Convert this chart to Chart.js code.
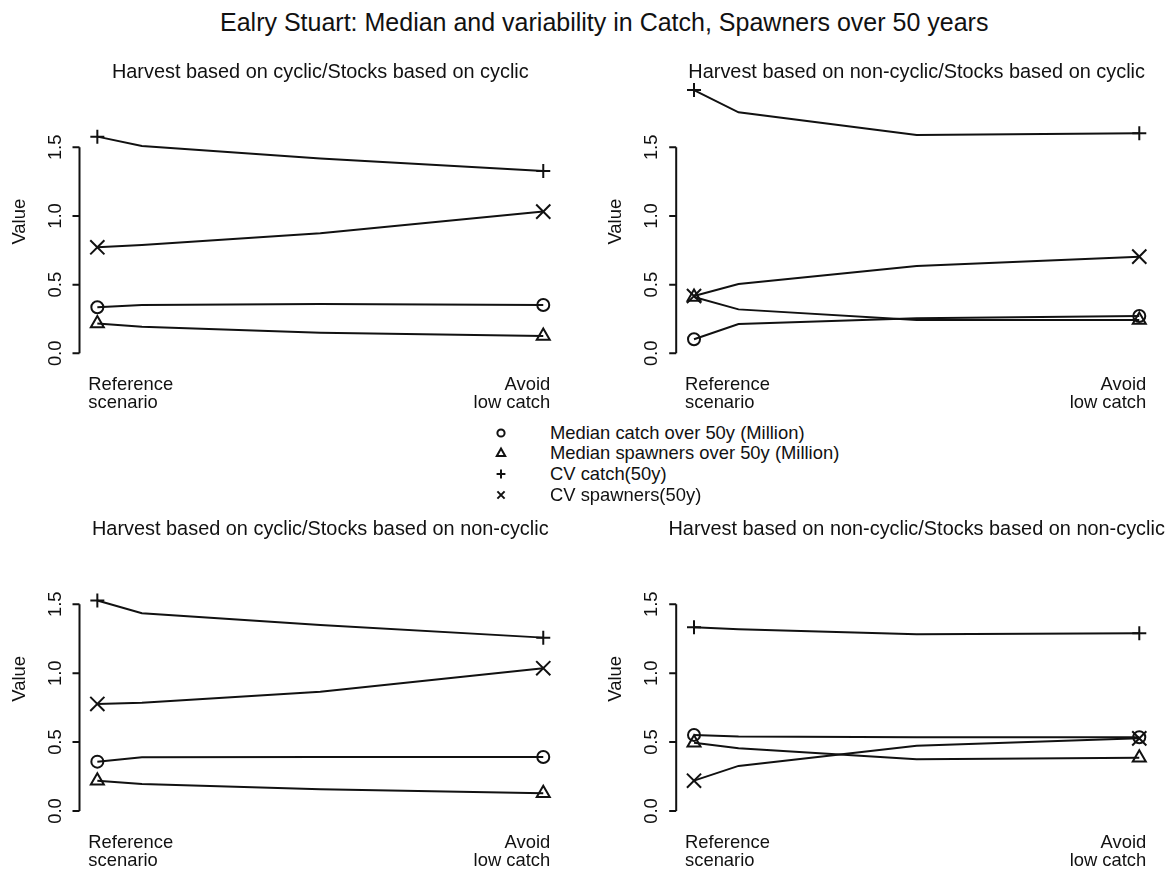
<!DOCTYPE html>
<html>
<head>
<meta charset="utf-8">
<title>Ealry Stuart: Median and variability</title>
<script src="https://cdn.jsdelivr.net/npm/chart.js@4.4.1/dist/chart.umd.min.js"></script>
<style>
  html, body { margin: 0; padding: 0; background: #fff; }
  #page { position: relative; width: 1170px; height: 872px; overflow: hidden;
          font-family: "Liberation Sans", Arial, sans-serif; color: #111; }
  #page canvas { position: absolute; }
  #mainTitle { position: absolute; left: 220px; top: 9.5px; font-size: 25px; line-height: 25px; white-space: nowrap; }
  .legText { position: absolute; left: 550px; font-size: 18.4px; line-height: 18.4px; white-space: nowrap; }
  .legSym { position: absolute; width: 14px; height: 14px; }
</style>
</head>
<body>
<div id="page">
  <div id="mainTitle">Ealry Stuart: Median and variability in Catch, Spawners over 50 years</div>
  <canvas id="p1" width="585" height="380" style="left:0;top:40px;width:585px;height:380px"></canvas>
  <canvas id="p2" width="585" height="380" style="left:585px;top:40px;width:585px;height:380px"></canvas>
  <canvas id="p3" width="585" height="377" style="left:0;top:495px;width:585px;height:377px"></canvas>
  <canvas id="p4" width="585" height="377" style="left:585px;top:495px;width:585px;height:377px"></canvas>
  <div id="legend"></div>
</div>
<script>
// x positions of the scenarios (only the two ends are labelled)
const xPositions = [0, 0.1, 0.5, 1];
const xTickLabels = [['Reference', 'scenario'], ['Avoid', 'low catch']];
const yTicks = [0, 0.5, 1.0, 1.5];

const seriesNames = [
  'Median catch over 50y (Million)',
  'Median spawners over 50y (Million)',
  'CV catch(50y)',
  'CV spawners(50y)'
];

const panelTitles = [
  'Harvest based on cyclic/Stocks based on cyclic',
  'Harvest based on non-cyclic/Stocks based on cyclic',
  'Harvest based on cyclic/Stocks based on non-cyclic',
  'Harvest based on non-cyclic/Stocks based on non-cyclic'
];

// panel 1: cyclic / cyclic
const p1Catch = [0.335, 0.352, 0.359, 0.352];
const p1Spawners = [0.218, 0.194, 0.150, 0.126];
const p1CvCatch = [1.578, 1.510, 1.418, 1.328];
const p1CvSpawners = [0.772, 0.789, 0.874, 1.032];

// panel 2: non-cyclic / cyclic
const p2Catch = [0.102, 0.214, 0.255, 0.272];
const p2Spawners = [0.410, 0.320, 0.243, 0.243];
const p2CvCatch = [1.917, 1.755, 1.590, 1.602];
const p2CvSpawners = [0.417, 0.505, 0.636, 0.704];

// panel 3: cyclic / non-cyclic
const p3Catch = [0.358, 0.390, 0.392, 0.392];
const p3Spawners = [0.220, 0.196, 0.157, 0.128];
const p3CvCatch = [1.527, 1.435, 1.350, 1.258];
const p3CvSpawners = [0.777, 0.786, 0.866, 1.036];

// panel 4: non-cyclic / non-cyclic
const p4Catch = [0.552, 0.540, 0.535, 0.535];
const p4Spawners = [0.496, 0.455, 0.375, 0.387];
const p4CvCatch = [1.333, 1.319, 1.283, 1.290];
const p4CvSpawners = [0.220, 0.327, 0.474, 0.527];

const INK = '#111';
const FONT = '"Liberation Sans", Arial, sans-serif';
const markerStyles = ['circle', 'triangle', 'cross', 'crossRot'];
const markerSizes = [6, 7.5, 7, 10];

// R-like axes: y axis only over the tick range, rotated tick labels, text labels under the ends
const rAxes = {
  id: 'rAxes',
  afterDraw(chart, args, opts) {
    const { ctx, chartArea, scales: { x, y } } = chart;
    const ax = chartArea.left;
    ctx.save();
    ctx.strokeStyle = INK;
    ctx.fillStyle = INK;
    ctx.lineWidth = 2;
    ctx.beginPath();
    ctx.moveTo(ax, y.getPixelForValue(yTicks[0]));
    ctx.lineTo(ax, y.getPixelForValue(yTicks[yTicks.length - 1]));
    yTicks.forEach(v => {
      const py = y.getPixelForValue(v);
      ctx.moveTo(ax, py);
      ctx.lineTo(ax - 7, py);
    });
    ctx.stroke();

    ctx.font = '18.4px ' + FONT;
    ctx.textAlign = 'center';
    ctx.textBaseline = 'alphabetic';
    yTicks.forEach(v => {
      ctx.save();
      ctx.translate(ax - 19, y.getPixelForValue(v));
      ctx.rotate(-Math.PI / 2);
      ctx.fillText(v.toFixed(1), 0, 0);
      ctx.restore();
    });
    ctx.save();
    ctx.translate(ax - 55, (chartArea.top + chartArea.bottom) / 2);
    ctx.rotate(-Math.PI / 2);
    ctx.fillText('Value', 0, 0);
    ctx.restore();

    const yz = y.getPixelForValue(0);
    ctx.textAlign = 'left';
    const xl = x.getPixelForValue(xPositions[0]) - 9;
    xTickLabels[0].forEach((t, i) => ctx.fillText(t, xl, yz + 37 + i * 17.7));
    ctx.textAlign = 'right';
    const xr = x.getPixelForValue(xPositions[xPositions.length - 1]) + 7;
    xTickLabels[1].forEach((t, i) => ctx.fillText(t, xr, yz + 37 + i * 17.7));

    ctx.font = '19.9px ' + FONT;
    ctx.textAlign = 'center';
    ctx.fillText(opts.title, (chartArea.left + chartArea.right) / 2, chartArea.top - 1.2);
    ctx.restore();
  }
};

function makePanel(id, title, series, pad) {
  const ends = r => xPositions.map((_, i) => (i === 0 || i === xPositions.length - 1) ? r : 0);
  return new Chart(document.getElementById(id), {
    type: 'line',
    data: {
      datasets: series.map((vals, s) => ({
        label: seriesNames[s],
        data: vals.map((v, i) => ({ x: xPositions[i], y: v })),
        borderColor: INK,
        borderWidth: 2,
        tension: 0,
        pointStyle: markerStyles[s],
        pointRadius: ends(markerSizes[s]),
        pointHoverRadius: ends(markerSizes[s]),
        pointBorderColor: INK,
        pointBackgroundColor: 'rgba(0,0,0,0)',
        pointBorderWidth: 2,
        clip: false
      }))
    },
    options: {
      responsive: false,
      animation: false,
      events: [],
      layout: { padding: pad },
      scales: {
        x: { type: 'linear', min: -0.04, max: 1.04, display: false },
        y: { type: 'linear', min: -0.077, max: 1.994, display: false }
      },
      plugins: {
        legend: { display: false },
        tooltip: { enabled: false },
        title: { display: false },
        rAxes: { title: title }
      }
    },
    plugins: [rAxes]
  });
}

makePanel('p1', panelTitles[0], [p1Catch, p1Spawners, p1CvCatch, p1CvSpawners],
  { left: 79.5, right: 23.9, top: 39.5, bottom: 56.1 });
makePanel('p2', panelTitles[1], [p2Catch, p2Spawners, p2CvCatch, p2CvSpawners],
  { left: 91.2, right: 12.9, top: 39.5, bottom: 56.1 });
makePanel('p3', panelTitles[2], [p3Catch, p3Spawners, p3CvCatch, p3CvSpawners],
  { left: 79.5, right: 23.9, top: 41.2, bottom: 50.4 });
makePanel('p4', panelTitles[3], [p4Catch, p4Spawners, p4CvCatch, p4CvSpawners],
  { left: 91.2, right: 12.9, top: 41.2, bottom: 50.4 });

// legend in the middle of the page
const legendSvg = {
  circle: '<circle cx="7" cy="7" r="3.6" fill="none" stroke="#111" stroke-width="2"/>',
  triangle: '<polygon points="7,2.6 11.2,10 2.8,10" fill="none" stroke="#111" stroke-width="2"/>',
  cross: '<path d="M7 2.6V11.4M2.6 7H11.4" stroke="#111" stroke-width="2"/>',
  crossRot: '<path d="M3.4 3.4L10.6 10.6M10.6 3.4L3.4 10.6" stroke="#111" stroke-width="2"/>'
};
const legend = document.getElementById('legend');
seriesNames.forEach((name, i) => {
  const baseline = 439.3 + i * 20.75;
  const sym = document.createElement('div');
  sym.className = 'legSym';
  sym.style.left = (500.7 - 7) + 'px';
  sym.style.top = (baseline - 6.6 - 7) + 'px';
  sym.innerHTML = '<svg width="14" height="14" viewBox="0 0 14 14">' + legendSvg[markerStyles[i]] + '</svg>';
  legend.appendChild(sym);
  const txt = document.createElement('div');
  txt.className = 'legText';
  txt.style.top = (baseline - 15.6) + 'px';
  txt.textContent = name;
  legend.appendChild(txt);
});
</script>
</body>
</html>
